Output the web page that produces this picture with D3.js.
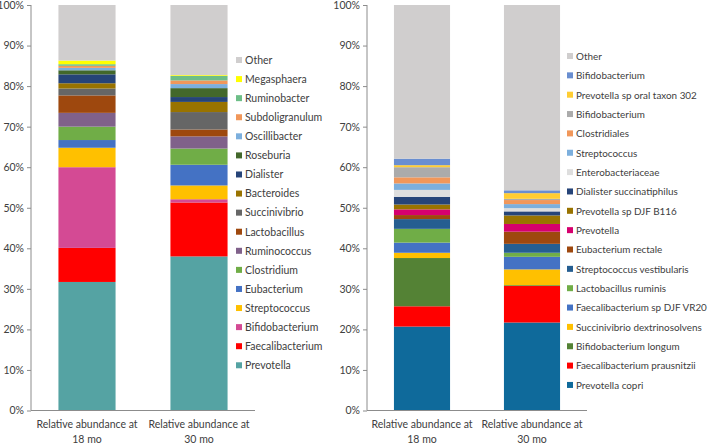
<!DOCTYPE html>
<html><head><meta charset="utf-8">
<script src="https://cdn.jsdelivr.net/npm/d3@7/dist/d3.min.js"></script>
<style>body{margin:0;background:#fff}svg{display:block}text{font-family:Lato,"Liberation Sans",Arial,sans-serif;fill:#404040}</style>
</head><body>
<svg id="c" width="709" height="444"></svg>
<script>
// ---- Data ----
const categories = ["18 mo", "30 mo"];
const yTicks = [0,10,20,30,40,50,60,70,80,90,100];

// Left chart (genus), bottom to top, percent values
const leftNames = ["Prevotella","Faecalibacterium","Bifidobacterium","Streptococcus","Eubacterium","Clostridium","Ruminococcus","Lactobacillus","Succinivibrio","Bacteroides","Dialister","Roseburia","Oscillibacter","Subdoligranulum","Ruminobacter","Megasphaera","Other"];
const left18 = [31.7, 8.4, 19.9, 4.8, 1.9, 3.3, 3.4, 4.3, 1.7, 1.3, 2.2, 1.0, 0.6, 0.5, 0.4, 0.9, 13.7];
const left30 = [38.0, 13.3, 0.8, 3.4, 5.1, 4.0, 3.0, 1.7, 4.3, 2.5, 1.2, 2.2, 1.0, 0.9, 1.1, 0.2, 17.3];
const leftColors = ["#55A3A3","#FF0000","#D44A94","#FFC000","#4472C4","#70AD47","#80618A","#9E480E","#666666","#997300","#264478","#43682B","#7CAFDD","#F1975A","#6DBE87","#FFFF00","#D0CECE"];

// Right chart (species), bottom to top
const rightNames = ["Prevotella copri","Faecalibacterium prausnitzii","Bifidobacterium longum","Succinivibrio dextrinosolvens","Faecalibacterium sp DJF VR20","Lactobacillus ruminis","Streptococcus vestibularis","Eubacterium rectale","Prevotella","Prevotella sp DJF B116","Dialister succinatiphilus","Enterobacteriaceae","Streptococcus","Clostridiales","Bifidobacterium","Prevotella sp oral taxon 302","Bifidobacterium","Other"];
const right18 = [20.7, 5.0, 11.9, 1.3, 2.5, 3.4, 2.4, 1.0, 1.4, 1.2, 1.9, 1.7, 1.6, 1.5, 2.5, 0.5, 1.6, 37.9];
const right30 = [21.7, 9.0, 0.2, 3.9, 3.1, 1.0, 2.2, 3.0, 1.9, 2.1, 1.0, 0.8, 1.0, 1.0, 0.3, 1.4, 0.7, 45.7];
const rightColors = ["#0F6A9B","#FF0000","#548235","#FFC000","#4472C4","#70AD47","#255E91","#9E480E","#D6006E","#997300","#264478","#DEDEDE","#7CAFDD","#F1975A","#ABABAB","#FFCD33","#698ED0","#D0CECE"];

// ---- Drawing ----
const svg = d3.select("#c");
const W = 709;
const y = d3.scaleLinear().domain([0,100]).range([410.5, 5]);

function drawChart(cfg){
  const g = svg.append("g");
  const x = d3.scaleBand().domain(categories).range([cfg.x0, cfg.x1]).paddingInner(0.49).paddingOuter(0.245);
  const rows = categories.map((c,i)=>{ const o={cat:c}; cfg.names.forEach((n,k)=>o["s"+k]=(i===0?cfg.v18:cfg.v30)[k]); return o; });
  const keys = cfg.names.map((n,k)=>"s"+k);
  const stack = d3.stack().keys(keys)(rows);
  g.selectAll("g.layer").data(stack).join("g").attr("fill",(d,i)=>cfg.colors[i])
    .selectAll("rect").data(d=>d).join("rect")
    .attr("x",d=>x(d.data.cat)).attr("width",x.bandwidth())
    .attr("y",d=>y(d[1])).attr("height",d=>Math.max(0,y(d[0])-y(d[1])));
  // y axis
  const ya = g.append("g").attr("transform",`translate(${cfg.x0},0)`)
    .call(d3.axisLeft(y).tickValues(yTicks).tickFormat(d=>d+"%").tickSize(4).tickPadding(3));
  ya.select(".domain").attr("stroke","#8C8C8C").attr("d",`M0,${y(0)}V${y(100)}`);
  ya.selectAll(".tick line").attr("stroke","#8C8C8C");
  ya.selectAll("text").style("font-size","10.5px").style("font-family","Lato").attr("fill","#404040");
  // x axis line
  g.append("line").attr("x1",cfg.x0).attr("x2",cfg.x1).attr("y1",y(0)).attr("y2",y(0)).attr("stroke","#8C8C8C");
  // x labels
  categories.forEach(c=>{
    const cx = x(c)+x.bandwidth()/2;
    const t = g.append("text").attr("x",cx).attr("y",428).attr("text-anchor","middle").style("font-size","10.5px");
    t.append("tspan").attr("x",cx).text("Relative abundance at");
    t.append("tspan").attr("x",cx).attr("dy",14.5).text(c);
  });
  // legend (top to bottom = reverse order)
  const n = cfg.names.length;
  const leg = g.append("g");
  const texts = [];
  cfg.names.forEach((name,k)=>{
    const row = n-1-k;
    const yy = cfg.legY0 + row*cfg.legStep;
    leg.append("rect").attr("x",cfg.legX).attr("y",yy-3).attr("width",6).attr("height",6).attr("fill",cfg.colors[k]);
    texts.push(leg.append("text").attr("x",cfg.legX+9).attr("y",yy+3.8).style("font-size","10.5px").text(name));
  });
  // shrink legend font uniformly if the longest label overflows the page
  let maxW = d3.max(texts, t=>t.node().getComputedTextLength());
  const avail = W - 2 - (cfg.legX+9);
  if (maxW > avail) {
    const fs = 10.5*avail/maxW;
    texts.forEach(t=>t.style("font-size",fs.toFixed(2)+"px"));
  }
}

drawChart({x0:31, x1:255, names:leftNames, v18:left18, v30:left30, colors:leftColors, legX:236, legY0:60, legStep:19.08});
drawChart({x0:367, x1:587, names:rightNames, v18:right18, v30:right30, colors:rightColors, legX:567, legY0:56, legStep:19.35});
</script>
</body></html>
